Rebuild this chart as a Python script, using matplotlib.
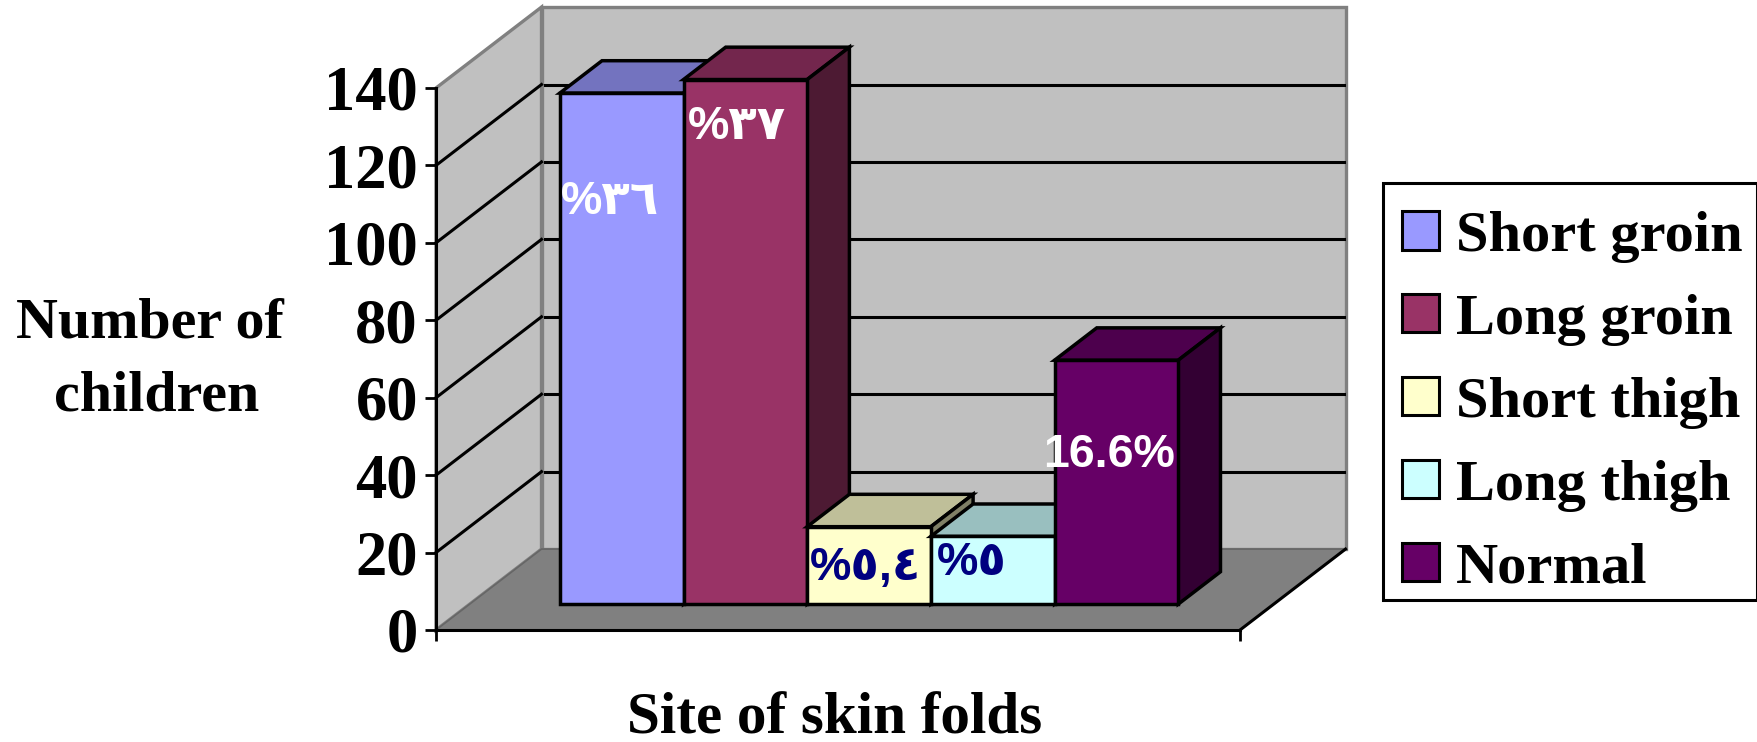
import numpy as np
import matplotlib
matplotlib.use("Agg")
import matplotlib.pyplot as plt
from matplotlib.patches import Polygon, Patch, Rectangle

# data
sites = ["Short groin", "Long groin", "Short thigh", "Long thigh", "Normal"]
children = [132, 135.5, 20, 17.5, 63]
bar_labels = ["%٣٦", "%٣٧", "%٥,٤", "%٥", "16.6%"]
y_ticks = [0, 20, 40, 60, 80, 100, 120, 140]

colors = ["#9999FF", "#993366", "#FFFFCC", "#CCFFFF", "#660066"]
label_colors = ["white", "white", "#000080", "#000080", "white"]
# label centres in image pixels
label_pos = [(610, 202), (737, 127), (866, 568), (972, 563), (1109, 455)]

W, H = 1758, 742
serif = "Liberation Serif"
arial = ["Liberation Sans", "DejaVu Sans"]

fig = plt.figure(figsize=(W / 100, H / 100), dpi=100)
ax = fig.add_axes([436 / W, 1 - 630 / H, 804 / W, 542 / H])
# gap width of 150%: 0.75 of a bar on each side of the five bars
x_min, x_max = -1.25, 5.25
ax.set_xlim(x_min, x_max)
ax.set_ylim(0, 140)
ax.patch.set_visible(False)

# how far the box goes back, in data units (oblique projection)
depth_x = 0.853
depth_y = 20.9
bar_d0, bar_d1 = 0.32, 0.72
bar_nudge = -0.022


def proj(x, v, d):
    return (x + d * depth_x, v + d * depth_y)


def face(pts, fc, ec, lw, z):
    ax.add_patch(Polygon(pts, closed=True, fc=fc, ec=ec, lw=lw, zorder=z,
                         clip_on=False, joinstyle="miter"))


# walls and floor
face([proj(x_min, 0, 1), proj(x_max, 0, 1), proj(x_max, 140, 1), proj(x_min, 140, 1)],
     "#C0C0C0", "#808080", 2.4, 1)
face([proj(x_min, 0, 0), proj(x_min, 0, 1), proj(x_min, 140, 1), proj(x_min, 140, 0)],
     "#C0C0C0", "#808080", 2.4, 1)
face([proj(x_min, 0, 0), proj(x_max, 0, 0), proj(x_max, 0, 1), proj(x_min, 0, 1)],
     "#808080", "#666666", 1.2, 1.5)

# gridlines run along the side wall then along the back wall
for v in y_ticks[1:-1]:
    p0 = proj(x_min, v, 0)
    p1 = proj(x_min, v, 1)
    p2 = proj(x_max, v, 1)
    ax.plot([p0[0], p1[0]], [p0[1], p1[1]], color="black", lw=2.2, zorder=2, clip_on=False)
    ax.plot([p1[0] + 0.03, p2[0] - 0.01], [p1[1], p2[1]], color="black", lw=2.2, zorder=2, clip_on=False)

# right edge of the floor
p0 = proj(x_max, 0, 0)
p1 = proj(x_max, 0, 1)
ax.plot([p0[0], p1[0]], [p0[1], p1[1]], color="black", lw=2.2, zorder=2, clip_on=False)

# bars, left to right so that each one covers the side of the one before
z = 3
for i, v in enumerate(children):
    left = i - 0.5 + bar_nudge
    right = i + 0.5 + bar_nudge
    base = proj(left, 0, bar_d0)
    shift = base[0] - left
    rgb = np.array(matplotlib.colors.to_rgb(colors[i]))
    face([proj(left, v, bar_d0), proj(right, v, bar_d0), proj(right, v, bar_d1), proj(left, v, bar_d1)],
         tuple(rgb * 0.75), "black", 2.5, z)
    face([proj(right, 0, bar_d0), proj(right, 0, bar_d1), proj(right, v, bar_d1), proj(right, v, bar_d0)],
         tuple(rgb * 0.5), "black", 2.5, z)
    ax.bar(i + bar_nudge + shift, v, width=1, bottom=base[1], color=colors[i], edgecolor="black",
           lw=2.5, zorder=z + 0.5, clip_on=False)
    z += 1

# axes
for s in ["top", "right"]:
    ax.spines[s].set_visible(False)
for s in ["left", "bottom"]:
    ax.spines[s].set_linewidth(2.2)
    ax.spines[s].set_zorder(20)
ax.set_yticks(y_ticks)
ax.set_yticklabels([str(t) for t in y_ticks], family=serif, weight="bold", fontsize=45)
ax.set_xticks([x_min, x_max])
ax.set_xticklabels(["", ""])
ax.tick_params(axis="both", length=8, width=2, pad=5)

# labels on the bars
for txt, c, (px, py) in zip(bar_labels, label_colors, label_pos):
    fig.text(px / W, 1 - py / H, txt, color=c, family=arial, weight="bold", fontsize=33.5,
             ha="center", va="center", zorder=30)

fig.text(150 / W, 1 - 323 / H, "Number of", family=serif, weight="bold", fontsize=41.8,
         ha="center", va="center")
fig.text(157 / W, 1 - 397 / H, "children", family=serif, weight="bold", fontsize=41.8,
         ha="center", va="center")
fig.text(835 / W, 1 - 720 / H, "Site of skin folds", family=serif, weight="bold", fontsize=42.6,
         ha="center", va="center")

# legend box is drawn apart, the reference has less room under the last row
fig.add_artist(Rectangle((1383 / W, 1 - 600 / H), 374 / W, 417 / H, transform=fig.transFigure,
                         fc="white", ec="black", lw=2.2))
handles = [Patch(fc=c, ec="black", lw=2.2) for c in colors]
leg = fig.legend(handles, sites, loc="upper left", bbox_to_anchor=(1402 / W, 1 - 211 / H),
                 bbox_transform=fig.transFigure, borderaxespad=0, frameon=False,
                 prop={"family": serif, "weight": "bold", "size": 42},
                 handlelength=0.63, handleheight=0.63, handletextpad=0.3, labelspacing=0.53,
                 borderpad=0)

fig.savefig("out.png", dpi=100)
